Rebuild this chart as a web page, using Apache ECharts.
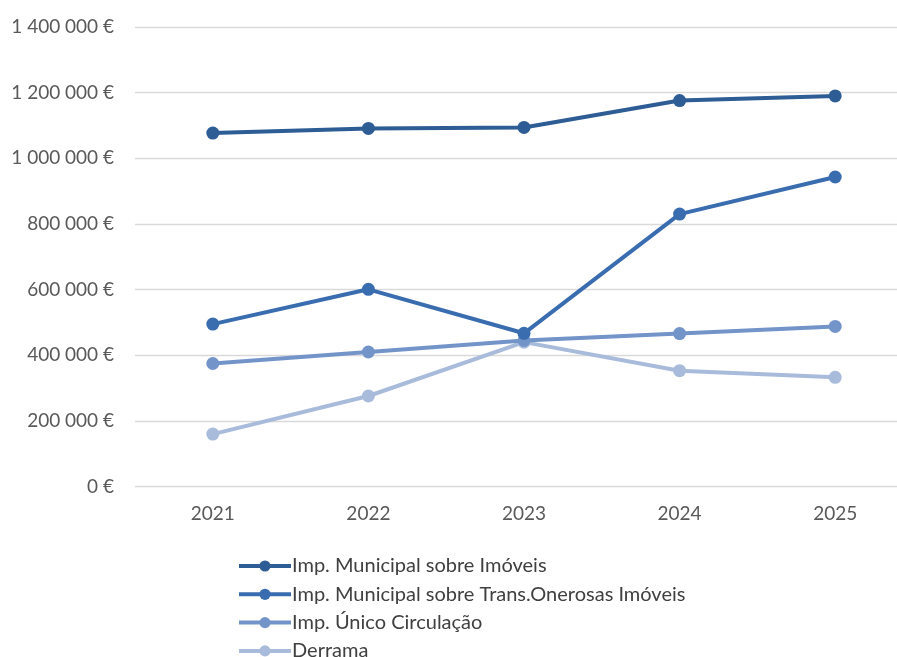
<!DOCTYPE html>
<html><head><meta charset="utf-8">
<script src="https://cdn.jsdelivr.net/npm/echarts@6/dist/echarts.min.js"></script>
<style>html,body{margin:0;padding:0;background:#fff}#c{width:897px;height:657px}</style>
</head><body><div id="c"></div>
<script>
const categories = ['2021','2022','2023','2024','2025'];
const seriesNames = ['Imp. Municipal sobre Imóveis','Imp. Municipal sobre Trans.Onerosas Imóveis','Imp. Único Circulação','Derrama'];
const imi = [1077000, 1091000, 1094000, 1176000, 1190000];
const imt = [495000, 601000, 467000, 830000, 943000];
const iuc = [375000, 410000, 445000, 466000, 488000];
const derrama = [160000, 276000, 440000, 353000, 333000];
const colors = ['#2E5C94','#3A6DB0','#7394C9','#A8BBDA'];
const values = [imi, imt, iuc, derrama];

function fmt(v){
  return String(v).replace(/\B(?=(\d{3})+(?!\d))/g, ' ') + ' €';
}
const chart = echarts.init(document.getElementById('c'));
chart.setOption({
  animation:false,
  backgroundColor:'#fff',
  textStyle:{fontFamily:'Lato'},
  grid:{left:135, top:27, width:778, height:459.6, outerBoundsMode:'none', containLabel:false},
  xAxis:{type:'category', data:categories, boundaryGap:true,
    axisLine:{show:false}, axisTick:{show:false},
    axisLabel:{color:'#595959', fontSize:19, margin:18, fontFamily:'Lato'}},
  yAxis:{type:'value', min:0, max:1400000, interval:200000,
    axisLine:{show:false}, axisTick:{show:false},
    splitLine:{lineStyle:{color:'#d9d9d9', width:1.3}},
    axisLabel:{color:'#595959', fontSize:19, margin:21, fontFamily:'Lato', formatter:fmt}},
  legend: seriesNames.map((n,i)=>({
    orient:'vertical', left:232, top:551 + 28.3*i, itemWidth:52, itemHeight:14,
    lineStyle:{width:4},
    textStyle:{color:'#404040', fontSize:20, fontFamily:'Lato', padding:[0,0,0,-4]},
    data:[n]
  })),
  series: seriesNames.map((n,i)=>({
    name:n, type:'line', data:values[i], symbol:'circle', symbolSize:13,
    lineStyle:{width:4, color:colors[i]}, itemStyle:{color:colors[i]},
    z: 10 - i
  }))
});
</script></body></html>
